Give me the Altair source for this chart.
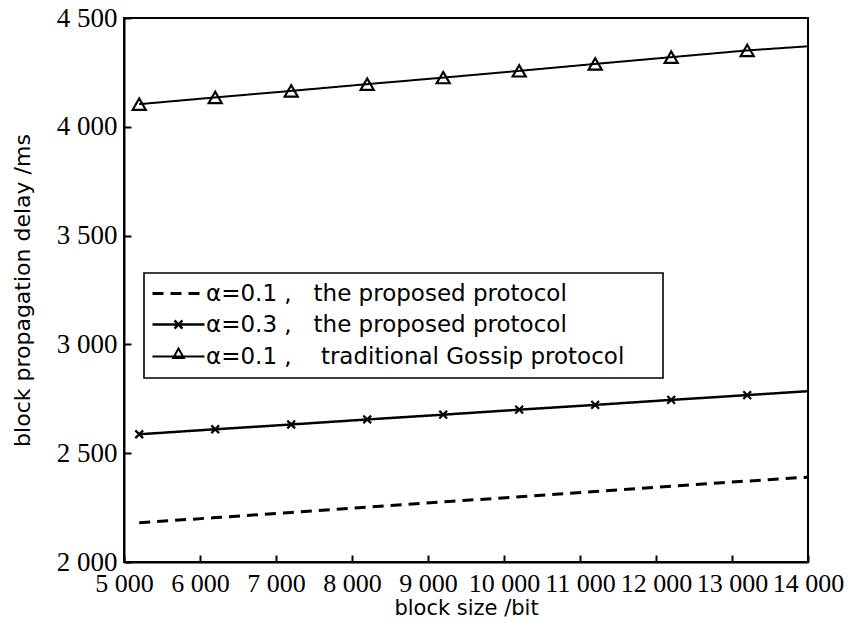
import json
import altair as alt
import pandas as pd

NB = "\u00a0"
WJ = "\u2060"

# ---- data ----
block_size = [5200, 6200, 7200, 8200, 9200, 10200, 11200, 12200, 13200, 14000]
delay_a01_proposed = [2180, 2204, 2228, 2252, 2276, 2300, 2324, 2348, 2372, 2390]
delay_a03_proposed = [2587, 2610, 2632, 2655, 2677, 2700, 2722, 2745, 2767, 2785]
delay_a01_gossip = [4104, 4135, 4165, 4196, 4226, 4257, 4289, 4320, 4351, 4370]
has_marker = [True, True, True, True, True, True, True, True, True, False]

series_labels = [
    "α=0.1" + NB + "," + NB * 3 + "the proposed protocol",
    "α=0.3" + NB + "," + NB * 3 + "the proposed protocol",
    "α=0.1" + NB + "," + NB * 4 + "traditional Gossip protocol" + NB * 4 + WJ,
]

x_ticks = [5000, 6000, 7000, 8000, 9000, 10000, 11000, 12000, 13000, 14000]
y_ticks = [2000, 2500, 3000, 3500, 4000, 4500]

rows = []
for name, vals in zip(series_labels, [delay_a01_proposed, delay_a03_proposed, delay_a01_gossip]):
    for x, y, m in zip(block_size, vals, has_marker):
        rows.append({"series": name, "size": x, "delay": y, "marker": m})
df = pd.DataFrame(rows)
pts = df[(df["marker"]) & (df["series"] != series_labels[0])]

# legend symbol paths (line + marker)
p_dash = "M-5.2,0H5.2"
p_cross = "M-5.2,0H5.2M-0.8,-0.8L0.8,0.8M-0.8,0.8L0.8,-0.8"
p_tri = "M-5.2,0H5.2M0,-1.6L1.05,0.3H-1.05Z"
shape_expr = (
    f"datum.value === {json.dumps(series_labels[0], ensure_ascii=False)} ? '{p_dash}' : "
    f"datum.value === {json.dumps(series_labels[1], ensure_ascii=False)} ? '{p_cross}' : '{p_tri}'"
)

SERIF = "'Liberation Serif', 'Times New Roman', 'DejaVu Serif', serif"
SANS = "'DejaVu Sans', 'Noto Sans', sans-serif"

x_scale = alt.Scale(domain=[5000, 14000], nice=False, zero=False)
y_scale = alt.Scale(domain=[2000, 4500], nice=False, zero=False)

x_axis = alt.Axis(
    values=x_ticks, format=",d", labelExpr="replace(datum.label, ',', ' ')",
    labelFont=SERIF, labelFontSize=26, labelColor="black",
    labelFlush=False, labelOverlap=False, labelPadding=15,
    tickSize={"expr": "-7"}, tickWidth=2, tickColor="black",
    domainColor="black", domainWidth=2, grid=False,
    title="block size /bit", titleFont=SANS, titleFontSize=21,
    titleFontWeight="normal", titleColor="black", titlePadding=1,
)
y_axis = alt.Axis(
    values=y_ticks, format=",d", labelExpr="replace(datum.label, ',', ' ')",
    labelFont=SERIF, labelFontSize=27, labelColor="black",
    labelFlush=False, labelOverlap=False, labelPadding=14,
    tickSize={"expr": "-7"}, tickWidth=2, tickColor="black",
    domainColor="black", domainWidth=2, grid=False,
    title="block propagation delay /ms", titleFont=SANS, titleFontSize=22,
    titleFontWeight="normal", titleColor="black", titlePadding=22,
)

legend = alt.Legend(
    title=None, orient="none", legendX=20, legendY=255, direction="vertical",
    padding=9, strokeColor="black", fillColor="white",
    labelFont=SANS, labelFontSize=23, labelColor="black", labelLimit=1000,
    symbolSize=100, symbolStrokeWidth=2, symbolStrokeColor="black",
    symbolFillColor="transparent",
    symbolType={"expr": shape_expr},
    symbolOffset=14, labelOffset=16, rowPadding=7,
)

lines = alt.Chart(df).mark_line(color="black").encode(
    x=alt.X("size:Q", scale=x_scale, axis=x_axis),
    y=alt.Y("delay:Q", scale=y_scale, axis=y_axis),
    strokeDash=alt.StrokeDash(
        "series:N",
        scale=alt.Scale(domain=series_labels, range=[[11, 7], [1, 0], [1, 0]]),
        legend=legend,
    ),
    strokeWidth=alt.StrokeWidth(
        "series:N", scale=alt.Scale(domain=series_labels, range=[3, 2, 2]), legend=None
    ),
)

points = alt.Chart(pts).mark_point(filled=False, color="black", strokeWidth=2.2, opacity=1).encode(
    x=alt.X("size:Q", scale=x_scale),
    y=alt.Y("delay:Q", scale=y_scale),
    shape=alt.Shape(
        "series:N",
        scale=alt.Scale(domain=series_labels[1:], range=["M-1,-1L1,1M-1,1L1,-1", "triangle-up"]),
        legend=None,
    ),
    size=alt.Size("series:N", scale=alt.Scale(domain=series_labels[1:], range=[60, 170]), legend=None),
)

chart = (
    alt.layer(lines, points)
    .properties(
        width=684, height=544,
        autosize=alt.AutoSizeParams(type="none"),
        padding={"left": 116, "top": 10, "right": 43, "bottom": 58},
        background="white",
    )
    .configure_view(stroke="black", strokeWidth=2)
    .configure_legend(strokeWidth=1.6)
)

chart.save("out.html", embed_options={"renderer": "svg", "actions": False})
